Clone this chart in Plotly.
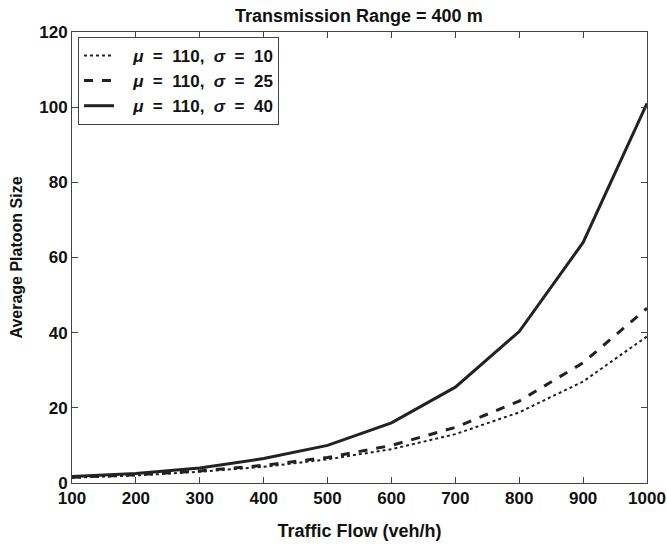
import plotly.graph_objects as go

flow = [100, 200, 300, 400, 500, 600, 700, 800, 900, 1000]
size_s10 = [1.4, 2.0, 3.0, 4.3, 6.3, 9.0, 13.0, 18.8, 27.0, 39.0]
size_s25 = [1.5, 2.2, 3.2, 4.7, 6.8, 10.0, 14.8, 21.8, 32.0, 46.5]
size_s40 = [1.7, 2.5, 4.0, 6.5, 10.0, 16.0, 25.5, 40.3, 64.0, 101.0]
sigmas = [10, 25, 40]
x_ticks = [100, 200, 300, 400, 500, 600, 700, 800, 900, 1000]
y_ticks = [0, 20, 40, 60, 80, 100, 120]

NB = "\u00a0"
names = [f"<b>{NB*3}<i>μ</i>{NB} ={NB} 110,<i>{NB}{NB}σ</i>{NB} ={NB} {s}</b>" for s in sigmas]

font = "Liberation Sans, Arial, sans-serif"
col = "#222222"

fig = go.Figure()
fig.add_trace(go.Scatter(x=flow, y=size_s10, mode="lines", name=names[0],
                         line=dict(color=col, width=2, dash="dot")))
fig.add_trace(go.Scatter(x=flow, y=size_s25, mode="lines", name=names[1],
                         line=dict(color=col, width=3, dash="dash")))
fig.add_trace(go.Scatter(x=flow, y=size_s40, mode="lines", name=names[2],
                         line=dict(color=col, width=3, dash="solid")))

axis_common = dict(showline=True, linecolor="#444", linewidth=1, mirror="ticks",
                   ticks="inside", ticklen=6, tickcolor="#444", showgrid=False,
                   zeroline=False, automargin=False, ticklabeloverflow="allow",
                   tickfont=dict(family=font, size=17, color="#111"))

fig.update_layout(
    width=667, height=546,
    margin=dict(l=72, r=20, t=32, b=63),
    paper_bgcolor="white", plot_bgcolor="white",
    font=dict(family=font, color="#111"),
    title=dict(text="<b>Transmission Range = 400 m</b>", x=0.538, xanchor="center",
               y=0.971, yanchor="middle", font=dict(family=font, size=18, color="#111")),
    xaxis=dict(range=[100, 1000], tickvals=x_ticks,
               ticktext=[f"<b>{v}</b>" for v in x_ticks],
               title=dict(text="<b>Traffic Flow (veh/h)</b>", font=dict(family=font, size=18), standoff=16),
               **axis_common),
    yaxis=dict(range=[0, 120], tickvals=y_ticks,
               ticktext=[f"<b>{v}</b>" for v in y_ticks],
               title=dict(text="<b>Average Platoon Size</b>", font=dict(family=font, size=16), standoff=12),
               **axis_common),
    legend=dict(x=0.0104, y=0.989, xanchor="left", yanchor="top",
                bgcolor="white", bordercolor="#444", borderwidth=1,
                font=dict(family=font, size=17, color="#111"),
                itemwidth=30, tracegroupgap=0),
    showlegend=True,
)

fig.write_html("out.html")
